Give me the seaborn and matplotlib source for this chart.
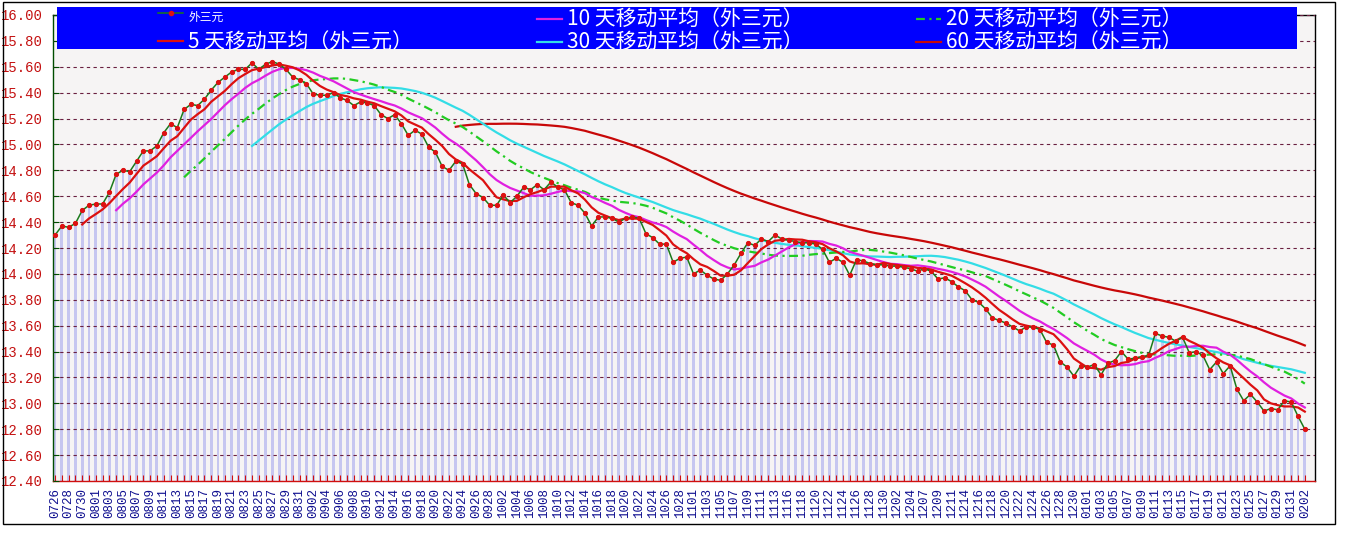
import numpy as np
import pandas as pd
import matplotlib
matplotlib.use("Agg")
import matplotlib.pyplot as plt
from matplotlib.lines import Line2D
from matplotlib.patches import Rectangle
import seaborn as sns

# ---------------- data ----------------
date_labels = ['0726','0728','0730','0801','0803','0805','0807','0809','0811','0813',
               '0815','0817','0819','0821','0823','0825','0827','0829','0831','0902',
               '0904','0906','0908','0910','0912','0914','0916','0918','0920','0922',
               '0924','0926','0928','1002','1004','1006','1008','1010','1012','1014',
               '1016','1018','1020','1022','1024','1026','1028','1101','1103','1105',
               '1107','1109','1111','1113','1116','1118','1120','1122','1124','1126',
               '1128','1130','1202','1204','1207','1209','1211','1214','1216','1218',
               '1220','1222','1224','1226','1228','1230','0101','0103','0105','0107',
               '0109','0111','0113','0115','0117','0119','0121','0123','0125','0127',
               '0129','0131','0202']

close = [14.30, 14.37, 14.36, 14.39, 14.49, 14.53, 14.54, 14.54, 14.63, 14.77,
         14.80, 14.79, 14.87, 14.95, 14.95, 14.99, 15.09, 15.16, 15.13, 15.27,
         15.31, 15.30, 15.35, 15.42, 15.48, 15.52, 15.56, 15.58, 15.58, 15.63,
         15.58, 15.62, 15.64, 15.62, 15.58, 15.52, 15.50, 15.47, 15.39, 15.38,
         15.38, 15.40, 15.36, 15.34, 15.30, 15.33, 15.32, 15.30, 15.23, 15.20,
         15.23, 15.16, 15.07, 15.11, 15.08, 14.98, 14.94, 14.83, 14.80, 14.87,
         14.85, 14.69, 14.62, 14.59, 14.53, 14.53, 14.61, 14.55, 14.60, 14.67,
         14.65, 14.69, 14.65, 14.71, 14.67, 14.65, 14.55, 14.53, 14.47, 14.37,
         14.44, 14.44, 14.43, 14.40, 14.43, 14.44, 14.43, 14.31, 14.28, 14.23,
         14.23, 14.09, 14.12, 14.13, 14.00, 14.03, 13.99, 13.96, 13.95, 14.00,
         14.07, 14.16, 14.24, 14.22, 14.27, 14.25, 14.30, 14.27, 14.26, 14.25,
         14.24, 14.24, 14.23, 14.19, 14.09, 14.12, 14.09, 13.99, 14.11, 14.10,
         14.08, 14.07, 14.07, 14.06, 14.06, 14.05, 14.04, 14.02, 14.04, 14.02,
         13.96, 13.97, 13.94, 13.90, 13.87, 13.80, 13.78, 13.73, 13.66, 13.64,
         13.62, 13.59, 13.56, 13.59, 13.59, 13.57, 13.47, 13.45, 13.32, 13.28,
         13.21, 13.29, 13.28, 13.30, 13.22, 13.31, 13.33, 13.40, 13.34, 13.35,
         13.36, 13.37, 13.54, 13.52, 13.51, 13.48, 13.51, 13.39, 13.40, 13.37,
         13.26, 13.32, 13.23, 13.29, 13.11, 13.02, 13.07, 13.01, 12.94, 12.96,
         12.95, 13.02, 13.01, 12.90, 12.80]

ma_windows = [5, 10, 20, 30, 60]
series_name = '外三元'
ma_names = ['5 天移动平均（外三元）', '10 天移动平均（外三元）', '20 天移动平均（外三元）',
            '30 天移动平均（外三元）', '60 天移动平均（外三元）']
y_ticks = [12.40, 12.60, 12.80, 13.00, 13.20, 13.40, 13.60, 13.80, 14.00, 14.20,
           14.40, 14.60, 14.80, 15.00, 15.20, 15.40, 15.60, 15.80, 16.00]

df = pd.DataFrame({'pos': np.arange(len(close)), 'close': close})
for w in ma_windows:
    df[f'ma{w}'] = df['close'].rolling(w).mean()

# ---------------- styling ----------------
W, H = 1348, 541
fig = plt.figure(figsize=(W / 100, H / 100), dpi=100)
fig.patch.set_facecolor('white')
ax = fig.add_axes([53 / W, 1 - 481 / H, (1315 - 53) / W, (481 - 15) / H])
ax.set_facecolor('#f6f4f4')

sns.barplot(x=df['pos'], y=df['close'], native_scale=True, width=0.42,
            color='#c6c6f0', saturation=1, linewidth=0, errorbar=None, ax=ax, zorder=1)

ma_styles = {
    5: dict(color='#dc1010', lw=1.6, ls='-'),
    10: dict(color='#e020e0', lw=1.6, ls='-'),
    20: dict(color='#22cc22', lw=1.6, ls=(0, (4, 2, 1, 2))),
    30: dict(color='#33dde6', lw=1.6, ls='-'),
    60: dict(color='#c80808', lw=1.6, ls='-'),
}
for w in [60, 30, 20, 10, 5]:
    st = ma_styles[w]
    sns.lineplot(data=df, x='pos', y=f'ma{w}', color=st['color'], linewidth=st['lw'],
                 linestyle=st['ls'], estimator=None, ax=ax, zorder=3)

sns.lineplot(data=df, x='pos', y='close', color='#1b7a1b', linewidth=1.1,
             marker='o', markersize=3.0, markerfacecolor='#dd1111',
             markeredgecolor='#dd1111', estimator=None, ax=ax, zorder=4)

n = len(close)
ax.set_xlim(-0.3, n - 1 + 1.5)
ax.set_ylim(12.40, 16.00)
ax.set_xlabel('')
ax.set_ylabel('')

ax.set_xticks(np.arange(n))
xt = []
for i in range(n):
    xt.append(date_labels[i // 2] if i % 2 == 0 else '')
ax.set_xticklabels(xt, rotation=90, fontsize=9, family='Liberation Mono', color='#101090')
ax.tick_params(axis='x', direction='in', length=4, width=0.8, color='#d01010', pad=5)

ax.set_yticks(y_ticks)
ax.set_yticklabels([f'{v:.2f}' for v in y_ticks], fontsize=10, family='Liberation Mono',
                   color='#c41010')
ax.tick_params(axis='y', direction='in', length=4, width=0.8, color='#004d00', pad=7)

ax.yaxis.grid(True, linestyle=(0, (3, 3)), color='#6a2040', linewidth=0.8)
ax.xaxis.grid(False)
ax.set_axisbelow(False)
for gl in ax.get_ygridlines():
    gl.set_zorder(2)

ax.spines['left'].set_color('#004d00')
ax.spines['bottom'].set_color('#d01010')
ax.spines['top'].set_color('black')
ax.spines['right'].set_color('black')
for s in ax.spines.values():
    s.set_linewidth(1)

# outer frame
fig.patches.append(Rectangle((3 / W, 1 - 524 / H), (1335 - 3) / W, (524 - 2) / H,
                             transform=fig.transFigure, fill=False, edgecolor='black',
                             linewidth=1, zorder=0))
# blue legend band
band = Rectangle((57 / W, 1 - 49 / H), (1297 - 57) / W, 42 / H, transform=fig.transFigure,
                 facecolor='#0000ff', edgecolor='none', zorder=5)
fig.patches.append(band)

fam = ['Noto Sans CJK SC', 'DejaVu Sans']
h_close = Line2D([], [], color='#1b7a1b', lw=1.1, marker='o', markersize=3.0,
                 markerfacecolor='#dd1111', markeredgecolor='#dd1111')
h = {w: Line2D([], [], color=ma_styles[w]['color'], lw=1.6, ls=ma_styles[w]['ls'])
     for w in ma_windows}

cols = [([h_close, h[5]], [series_name, ma_names[0]], 158, 6, 0.39),
        ([h[10], h[30]], [ma_names[1], ma_names[3]], 537, 9, 0.05),
        ([h[20], h[60]], [ma_names[2], ma_names[4]], 916, 9, 0.05)]
for handles, labels, xpix, ypix, lsp in cols:
    leg = fig.legend(handles, labels, loc='upper left',
                     bbox_to_anchor=(xpix / W, 1 - ypix / H), frameon=False,
                     borderpad=0, borderaxespad=0, handlelength=1.2, handletextpad=0.25,
                     labelspacing=lsp, prop={'family': fam, 'size': 15})
    leg.set_zorder(6)
    for t in leg.get_texts():
        t.set_color('white')
        t.set_clip_path(band)
    if labels[0] == series_name:
        leg.get_texts()[0].set_fontsize(8.5)

fig.savefig('out.png', dpi=100, facecolor='white')
